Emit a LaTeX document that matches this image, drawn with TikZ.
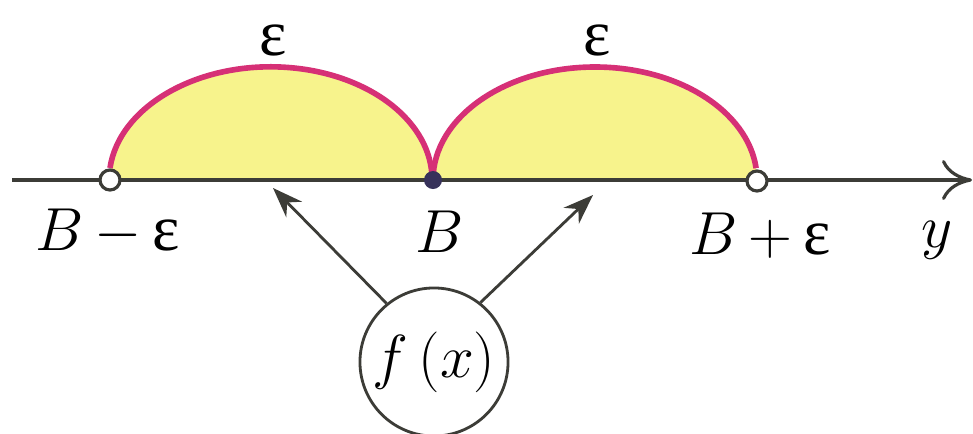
\documentclass[tikz,border=0pt]{standalone}
\usepackage{fontspec}
\newfontfamily\grk{Liberation Serif}
\usetikzlibrary{arrows.meta}
\definecolor{fillyel}{RGB}{247,243,140}
\definecolor{arcmag}{RGB}{214,48,118}
\definecolor{axisc}{RGB}{60,60,55}
\definecolor{dotc}{RGB}{55,50,90}
\tikzset{
  lbl/.style={font=\fontsize{18.5}{22}\selectfont, inner sep=0pt},
  opendot/.style={circle, draw=axisc, fill=white, line width=0.9pt, minimum size=0.2cm, inner sep=0pt},
  fulldot/.style={circle, fill=dotc, minimum size=0.18cm, inner sep=0pt},
  ptr/.style={draw=axisc, line width=0.8pt, -{Stealth[length=0.3cm, width=0.22cm]}},
  arcline/.style={draw=arcmag, line width=1.6pt},
  fbox/.style={circle, draw=axisc, line width=0.8pt, minimum size=1.48cm, inner sep=0pt, font=\fontsize{18.5}{22}\selectfont}
}
\begin{document}
\begin{tikzpicture}[x=0.01cm, y=-0.01cm]
\useasboundingbox (0,0) rectangle (973,433);
\clip (0,0) rectangle (973,433);
\fill[white] (0,0) rectangle (973,433);
% yellow fill
\fill[fillyel] (110,180) arc[start angle=180, end angle=0, x radius=161.5, y radius=-113] -- cycle;
\fill[fillyel] (433,180) arc[start angle=180, end angle=0, x radius=162, y radius=-113] -- cycle;
% axis
\coordinate (axstart) at (12,180);
\coordinate (axend) at (972,180);
\draw[draw=axisc, line width=0.9pt, -{To[length=0.3cm, width=0.4cm]}] (axstart) -- (axend);
% arcs
\draw[arcline] (110,168) arc[start angle=174, end angle=0, x radius=161.5, y radius=-113];
\draw[arcline] (433,180) arc[start angle=180, end angle=6, x radius=162, y radius=-113];
% dots
\node[opendot] (lo) at (110,180) {};
\node[fulldot] (b) at (433,180) {};
\node[opendot] (hi) at (757,181) {};
% epsilon labels
\node[lbl] (e1) at (273,40) {\grk ε};
\node[lbl] (e2) at (597,40) {\grk ε};
% axis labels
\node[lbl] (llo) at (108,232) {$B$\,$-$\,{\grk ε}};
\node[lbl] (lb) at (440,232) {$B$};
\node[lbl] (lhi) at (760,236) {$B$\,$+$\,{\grk ε}};
\node[lbl] (ly) at (937,240) {$y$};
% f(x)
\node[fbox] (f) at (434,362) {$f\,(x)$};
\coordinate (t1) at (273,188);
\coordinate (t2) at (593,195);
\draw[ptr] (f.129) -- (t1);
\draw[ptr] (f.52) -- (t2);
\end{tikzpicture}
\end{document}
